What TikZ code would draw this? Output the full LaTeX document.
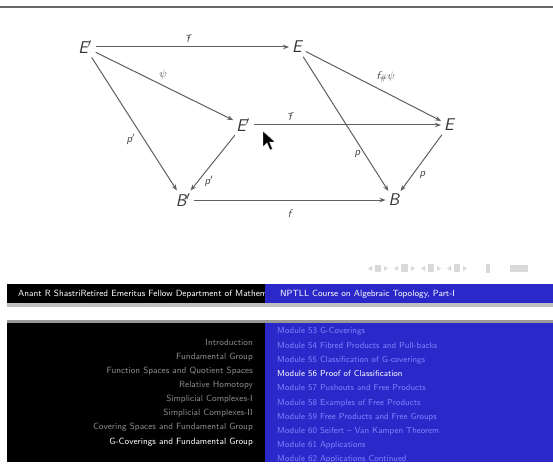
\documentclass[tikz,border=0pt]{standalone}
\usetikzlibrary{arrows.meta}
\definecolor{beamerblue}{RGB}{42,40,200}
\definecolor{lightblue}{RGB}{130,130,255}
\definecolor{arrgray}{RGB}{95,95,95}
\begin{document}
\begin{tikzpicture}[x=1pt,y=-1pt,
  obj/.style={inner sep=2pt, font=\fontsize{17}{17}\selectfont\sffamily\itshape, text=black!80},
  lab/.style={font=\fontsize{11}{11}\selectfont\sffamily\itshape, text=black!75, inner sep=1pt},
  map/.style={draw=arrgray, line width=1pt, -{Stealth[length=6pt,width=4.5pt]}, shorten >=1pt, shorten <=2pt},
  lefttxt/.style={anchor=east, font=\fontsize{9}{9}\selectfont\sffamily, text=black!45, inner sep=0pt},
  righttxt/.style={anchor=west, font=\fontsize{8.7}{8.7}\selectfont\sffamily, text=lightblue, inner sep=0pt},
  navsym/.style={fill=black!15, draw=none}
]
\useasboundingbox (0,0) rectangle (553,465);
\fill[white] (0,0) rectangle (553,465);
\draw[black!60, line width=1.2pt] (0,7) -- (553,7);

\node[obj] (E1) at (85,47) {E$'$};
\node[obj] (E2) at (297,47) {E};
\node[obj] (E3) at (243,125) {E$'$};
\node[obj] (E4) at (449,125) {E};
\node[obj] (B1) at (183,200) {B$'$};
\node[obj] (B2) at (394,200) {B};

\draw[map] (E1) -- node[lab, above=3pt, pos=0.48] {\=f} (E2);
\draw[map] (E1) -- node[lab, above right=1pt, pos=0.45] {$\psi$} (E3);
\draw[map] (E1) -- node[lab, left=8pt, pos=0.62] {p$'$} (B1);
\draw[map] (E2) -- node[lab, above right=2pt, pos=0.5] {f$_{\#}\psi$} (E4);
\draw[map] (E2) -- node[lab, left=3pt, pos=0.72] {p} (B2);
\draw[map] (E3) -- node[lab, above=3pt, pos=0.2] {\=f} (E4);
\draw[map] (E3) -- node[lab, right=5pt, pos=0.82] {p$'$} (B1);
\draw[map] (E4) -- node[lab, right=6pt, pos=0.72] {p} (B2);
\draw[map] (B1) -- node[lab, below=8pt, pos=0.5] {f} (B2);

\filldraw[fill=black, draw=white, line width=0.4pt]
  (263,131) -- (263,147) -- (267,143) -- (270,150) -- (272.5,149) -- (269.5,142) -- (275,142) -- cycle;

\begin{scope}[navsym]
  \fill (372,266) -- (368,268.5) -- (372,271) -- cycle;
  \fill (375,265) rectangle (381,272);
  \fill (384,266) -- (388,268.5) -- (384,271) -- cycle;
  \fill (398,266) -- (394,268.5) -- (398,271) -- cycle;
  \fill (401,264) rectangle (408,272);
  \fill (411,266) -- (415,268.5) -- (411,271) -- cycle;
  \fill (425,266) -- (421,268.5) -- (425,271) -- cycle;
  \fill (428,264) rectangle (434,272);
  \fill (437,266) -- (441,268.5) -- (437,271) -- cycle;
  \fill (451,266) -- (447,268.5) -- (451,271) -- cycle;
  \fill (454,264) rectangle (460,272);
  \fill (463,266) -- (467,268.5) -- (463,271) -- cycle;
  \fill (486,264) rectangle (490,273);
  \fill (510,265) rectangle (528,272);
\end{scope}

\fill[black!25] (7,303) rectangle (553,307);
\fill[black] (7,284) rectangle (265,303);
\fill[beamerblue] (265,284) rectangle (553,303);
\begin{scope}
  \clip (7,284) rectangle (264,303);
  \node[anchor=west, font=\fontsize{9}{9}\selectfont\sffamily, text=white, inner sep=0pt] (auth) at (18,294)
    {Anant R ShastriRetired Emeritus Fellow Department of Mathematics};
\end{scope}
\node[anchor=west, font=\fontsize{9}{9}\selectfont\sffamily, text=white, inner sep=0pt] (course) at (280,294)
  {NPTLL Course on Algebraic Topology, Part-I};

\fill[black!40] (7,320) rectangle (553,323);
\fill[black] (7,323) rectangle (265,462);
\fill[beamerblue] (265,323) rectangle (553,462);

\node[lefttxt] (l1) at (253,342) {Introduction};
\node[lefttxt] (l2) at (253,357) {Fundamental Group};
\node[lefttxt] (l3) at (253,371) {Function Spaces and Quotient Spaces};
\node[lefttxt] (l4) at (253,385) {Relative Homotopy};
\node[lefttxt] (l5) at (253,399) {Simplicial Complexes-I};
\node[lefttxt] (l6) at (253,413) {Simplicial Complexes-II};
\node[lefttxt] (l7) at (253,427) {Covering Spaces and Fundamental Group};
\node[lefttxt, text=white] (l8) at (253,442) {G-Coverings and Fundamental Group};

\begin{scope}
  \clip (265,323) rectangle (553,462);
  \node[righttxt] (r1) at (277,331) {Module 53 G-Coverings};
  \node[righttxt] (r2) at (277,346) {Module 54 Fibred Products and Pull-backs};
  \node[righttxt] (r3) at (277,360) {Module 55 Classification of G-coverings};
  \node[righttxt, text=white] (r4) at (277,374) {Module 56 Proof of Classification};
  \node[righttxt] (r5) at (277,388) {Module 57 Pushouts and Free Products};
  \node[righttxt] (r6) at (277,403) {Module 58 Examples of Free Products};
  \node[righttxt] (r7) at (277,417) {Module 59 Free Products and Free Groups};
  \node[righttxt] (r8) at (277,431) {Module 60 Seifert -- Van Kampen Theorem};
  \node[righttxt] (r9) at (277,445) {Module 61 Applications};
  \node[righttxt] (r10) at (277,459) {Module 62 Applications Continued};
\end{scope}
\end{tikzpicture}
\end{document}
